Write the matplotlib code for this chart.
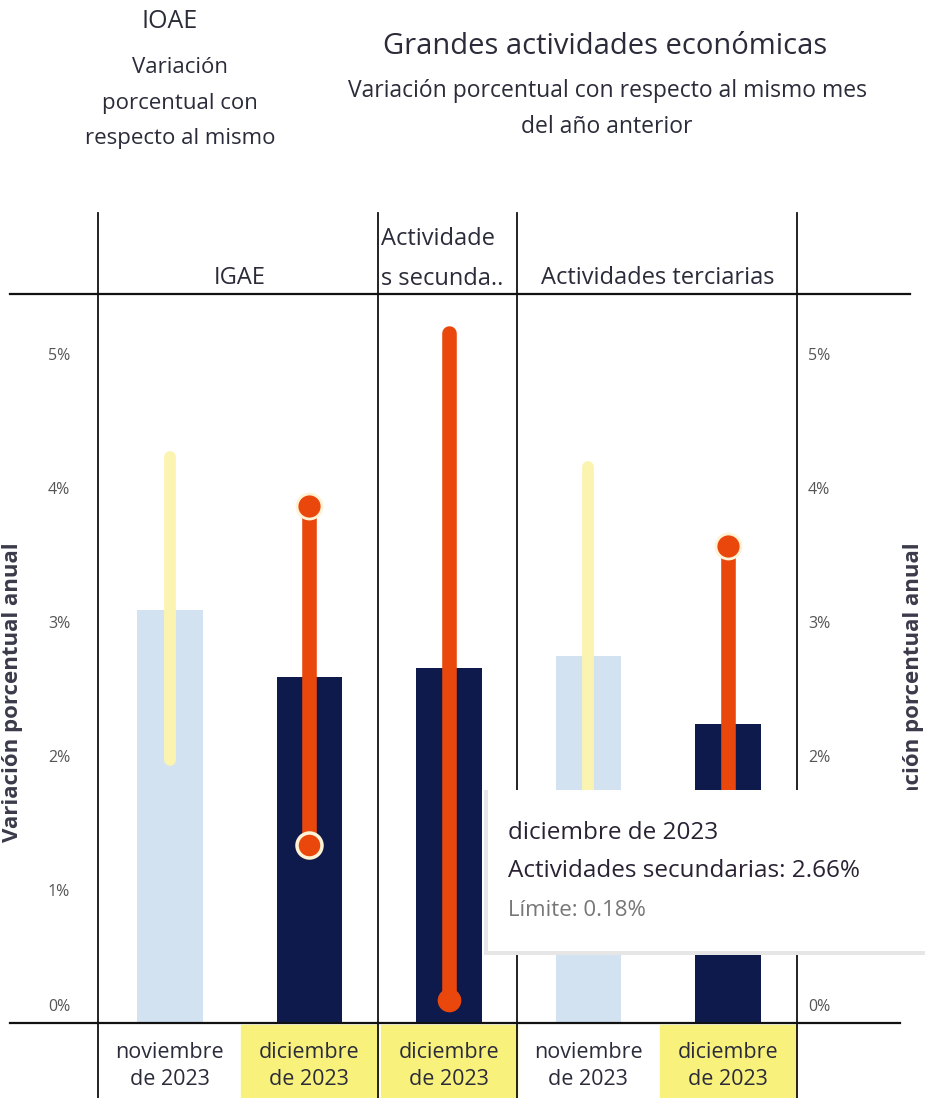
import matplotlib
matplotlib.use("Agg")
import matplotlib.pyplot as plt
import matplotlib.transforms as mtransforms
from matplotlib.lines import Line2D
from matplotlib.patches import Rectangle

plt.rcParams['font.family'] = ['Open Sans', 'DejaVu Sans']

# --- data ---
categories = ['noviembre\nde 2023', 'diciembre\nde 2023', 'diciembre\nde 2023',
              'noviembre\nde 2023', 'diciembre\nde 2023']
panel_names = ['IGAE', 'Actividade\ns secunda..', 'Actividades terciarias']
panel_spans = [(0, 1), (2, 2), (3, 4)]
bar_values = [3.09, 2.59, 2.66, 2.75, 2.24]
range_low = [1.97, 1.34, 0.18, 1.50, 1.20]
range_high = [4.23, 3.87, 5.16, 4.16, 3.57]
is_current = [False, True, True, False, True]
y_ticks = [0, 1, 2, 3, 4, 5]
y_ticklabels = ['0%', '1%', '2%', '3%', '4%', '5%']

NAVY = '#0f1a4c'
LIGHT_BLUE = '#d3e2f1'
PALE_YELLOW = '#fbf4b0'
ORANGE = '#ea470d'
HILITE = '#f8f27c'
TXT = '#2b2b3a'

W, H = 925, 1098
fig = plt.figure(figsize=(W / 100, H / 100), dpi=100)
fig.patch.set_facecolor('white')


def fx(px):
    return px / W


def fy(py):
    return 1 - py / H


ax = fig.add_axes([fx(98), fy(1024), fx(797) - fx(98), fy(294) - fy(1024)])
ax.set_xlim(-0.515, 4.495)
ax.set_ylim(0, 5.45)
for s in ax.spines.values():
    s.set_visible(False)

x = list(range(len(categories)))
bar_colors = [NAVY if c else LIGHT_BLUE for c in is_current]
ax.bar(x, bar_values, width=0.47, color=bar_colors, zorder=1)

for i in x:
    if is_current[i]:
        ax.plot([i, i], [range_low[i], range_high[i]], color=ORANGE, lw=10.5,
                solid_capstyle='round', zorder=2)
    else:
        ax.plot([i, i], [range_low[i], range_high[i]], color=PALE_YELLOW, lw=8.5,
                solid_capstyle='round', zorder=2)

# end markers on the current-month ranges
for i in (1, 4):
    ax.plot(i, range_high[i], 'o', ms=18, color=ORANGE, mec='#fff3d6', mew=2, zorder=3)
ax.plot(1, range_low[1], 'o', ms=18, color=ORANGE, mec='#fff3d6', mew=2.5, zorder=3)
ax.plot(2, range_low[2], 'o', ms=16, color=ORANGE, mec=ORANGE, zorder=3)

# y axes on both sides
ax.set_yticks(y_ticks)
ax.set_yticklabels(y_ticklabels)
ax.tick_params(axis='y', length=0, pad=20, labelsize=11.5, labelcolor='#555555')
ax2 = ax.twinx()
ax2.set_ylim(ax.get_ylim())
ax2.set_yticks(y_ticks)
ax2.set_yticklabels(y_ticklabels)
ax2.tick_params(axis='y', length=0, pad=8, labelsize=11.5, labelcolor='#555555')
for s in ax2.spines.values():
    s.set_visible(False)
# Tableau nudges the 0% label above the baseline
for a in (ax, ax2):
    lab = a.get_yticklabels()[0]
    lab.set_transform(lab.get_transform() + mtransforms.ScaledTranslation(0, 0.19, fig.dpi_scale_trans))

# x labels + highlight boxes
ax.set_xticks(x)
ax.set_xticklabels(categories, fontsize=15.5, color=TXT, linespacing=1.38)
ax.tick_params(axis='x', length=0, pad=13)
trans = mtransforms.blended_transform_factory(ax.transData, ax.transAxes)
for i in x:
    if is_current[i]:
        ax.add_patch(Rectangle((i - 0.49, -0.102), 0.98, 0.1, transform=trans,
                               color=HILITE, clip_on=False, zorder=0))

# header / divider lines
for px in (98, 378, 517, 797):
    fig.add_artist(Line2D([fx(px), fx(px)], [fy(213), fy(1098)], color='#111111', lw=1.3, zorder=3))
fig.add_artist(Line2D([fx(10), fx(910)], [fy(294), fy(294)], color='#111111', lw=1.6, zorder=3))
fig.add_artist(Line2D([fx(10), fx(900)], [fy(1023), fy(1023)], color='#111111', lw=1.6, zorder=3))

# panel headers
htrans = mtransforms.blended_transform_factory(ax.transData, fig.transFigure)
for (a, b), name in zip(panel_spans, panel_names):
    if '\n' in name:
        ax.text(a - 0.49, fy(259), name, transform=htrans, ha='left', va='center',
                fontsize=17, color=TXT, linespacing=1.85)
    else:
        ax.text((a + b) / 2, fy(278), name, transform=htrans, ha='center', va='center',
                fontsize=17, color=TXT)

# y axis titles
fig.text(fx(13), fy(692), 'Variación porcentual anual', rotation=90, ha='center', va='center',
         fontsize=16, fontweight='bold', color='#3a3a4a')
fig.text(fx(913), fy(692), 'Variación porcentual anual', rotation=90, ha='center', va='center',
         fontsize=16, fontweight='bold', color='#3a3a4a', zorder=1)

# titles
fig.text(fx(170), fy(22), 'IOAE', ha='center', va='center', fontsize=18, color=TXT)
fig.text(fx(180), fy(103), 'Variación\nporcentual con\nrespecto al mismo', ha='center', va='center',
         fontsize=16, color=TXT, linespacing=1.9)
fig.text(fx(605), fy(47), 'Grandes actividades económicas', ha='center', va='center',
         fontsize=21, color=TXT)
fig.text(fx(607), fy(109), 'Variación porcentual con respecto al mismo mes\ndel año anterior',
         ha='center', va='center', fontsize=16.5, color=TXT, linespacing=1.72)

# tooltip
shadow = Rectangle((fx(484), fy(955)), fx(925) - fx(484), fy(790) - fy(955),
                   transform=fig.transFigure, facecolor='#e6e6e6', edgecolor='none', zorder=9)
tip = Rectangle((fx(488), fy(951)), fx(925) - fx(488), fy(790) - fy(951),
                transform=fig.transFigure, facecolor='white', edgecolor='none', zorder=10)
fig.add_artist(shadow)
fig.add_artist(tip)
fig.text(fx(508), fy(833), 'diciembre de 2023', ha='left', va='center', fontsize=17.5,
         color='#2a2233', zorder=11)
fig.text(fx(508), fy(871), 'Actividades secundarias: 2.66%', ha='left', va='center', fontsize=17.5,
         color='#2a2233', zorder=11)
fig.text(fx(508), fy(910), 'Límite: 0.18%', ha='left', va='center', fontsize=16,
         color='#777777', zorder=11)

fig.savefig('out.png', dpi=100, facecolor='white')
